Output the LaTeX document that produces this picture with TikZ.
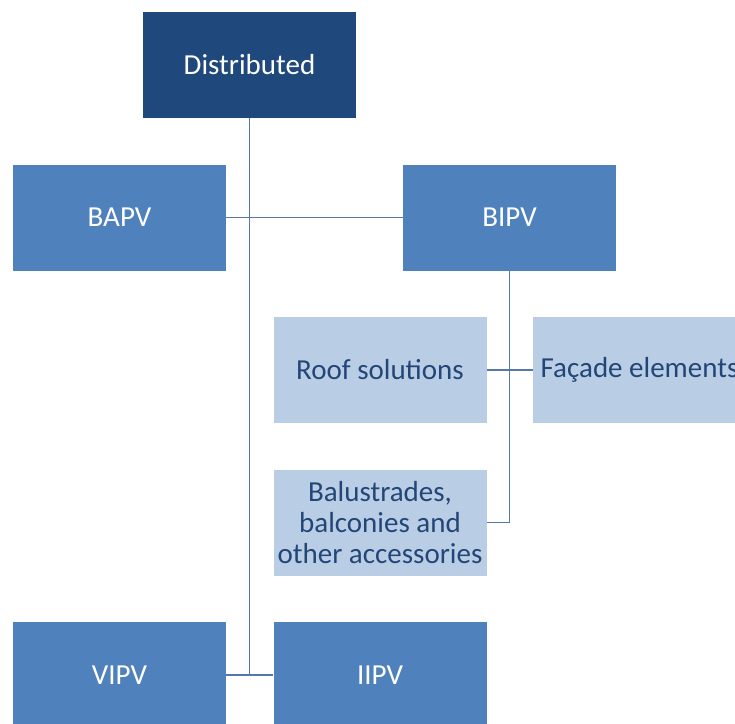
\documentclass[tikz,border=0pt]{standalone}
\usepackage{fontspec}
\setmainfont{Carlito}
\definecolor{darkbox}{RGB}{31,73,125}
\definecolor{midbox}{RGB}{79,129,189}
\definecolor{lightbox}{RGB}{185,205,229}
\definecolor{lightext}{RGB}{35,70,120}
\definecolor{linec}{RGB}{84,120,170}
\begin{document}
\begin{tikzpicture}[x=1pt,y=-1pt,
  box/.style={draw=none, minimum width=213pt, minimum height=106pt, inner sep=0pt, align=center,
    font=\fontsize{29}{31}\selectfont},
  topbox/.style={box, fill=darkbox, text=white},
  midnode/.style={box, fill=midbox, text=white},
  subbox/.style={box, fill=lightbox, text=lightext},
  conn/.style={draw=linec, line width=1.8pt}]
\useasboundingbox (0,0) rectangle (735,723);
\clip (0,0) rectangle (735,723);
\node[topbox] (dist) at (249.5,65) {Distributed};
\node[midnode] (bapv) at (119.5,217.5) {BAPV};
\node[midnode] (bipv) at (509.5,217.5) {BIPV};
\node[subbox] (roof) at (380,370) {Roof solutions};
\node[subbox] (facade) at (639.5,370) {Façade elements};
\node[subbox] (bal) at (380,522.5) {Balustrades,\\balconies and\\other accessories};
\node[midnode] (vipv) at (119.5,675) {VIPV};
\node[midnode] (iipv) at (380,675) {IIPV};
\coordinate (j) at (dist.south |- vipv.east);
\draw[conn] (dist.south) -- (j);
\draw[conn] (bapv.east) -- (bipv.west);
\draw[conn] (vipv.east) -- (iipv.west);
\draw[conn] (bipv.south) -- (bipv.south |- bal.east) -- (bal.east);
\draw[conn] (roof.east) -- (facade.west);
\end{tikzpicture}
\end{document}
